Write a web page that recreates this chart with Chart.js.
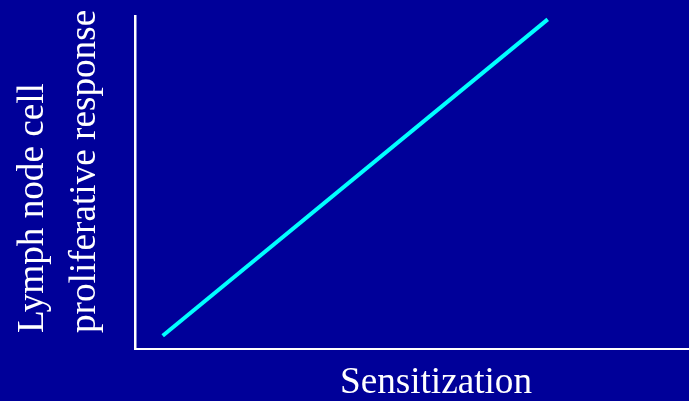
<!DOCTYPE html>
<html>
<head>
<meta charset="utf-8">
<script src="https://cdn.jsdelivr.net/npm/chart.js@4"></script>
<style>
  html, body { margin: 0; padding: 0; background: #000099; }
  #wrap { width: 689px; height: 401px; }
</style>
</head>
<body>
<div id="wrap"><canvas id="chart"></canvas></div>
<script>
// data (both axes 0-100, no ticks shown)
const sensitization = [5, 74.5];
const response = [4, 99];
const yTitle = ['Lymph node cell', 'proliferative response'];
const xTitle = 'Sensitization';

const ink = '#ffffff';
const font = '37.2px "Liberation Serif", "Times New Roman", serif';

// axis titles are placed by hand, the slide had them off-centre
const slideTitles = {
  id: 'slideTitles',
  afterDraw(chart) {
    const c = chart.ctx;
    c.save();
    c.fillStyle = ink;
    c.font = font;
    c.textAlign = 'left';
    c.textBaseline = 'alphabetic';
    const baselines = [43, 95];
    yTitle.forEach((t, i) => {
      c.save();
      c.translate(baselines[i], 333);
      c.rotate(-Math.PI / 2);
      c.fillText(t, 0, 0);
      c.restore();
    });
    c.textAlign = 'center';
    c.fillText(xTitle, 436, 393);
    c.restore();
  }
};

new Chart(document.getElementById('chart'), {
  type: 'scatter',
  data: {
    datasets: [{
      data: sensitization.map((x, i) => ({ x: x, y: response[i] })),
      showLine: true,
      borderColor: '#00ffff',
      borderWidth: 4,
      pointRadius: 0,
      borderCapStyle: 'butt'
    }]
  },
  options: {
    responsive: true,
    maintainAspectRatio: false,
    animation: false,
    layout: { padding: { left: 127, top: 16, right: 0, bottom: 44 } },
    plugins: { legend: { display: false }, tooltip: { enabled: false } },
    scales: {
      x: {
        type: 'linear', min: 0, max: 100,
        grid: { display: false },
        ticks: { display: false },
        border: { display: true, color: ink, width: 2 }
      },
      y: {
        type: 'linear', min: 0, max: 100,
        grid: { display: false },
        ticks: { display: false },
        border: { display: true, color: ink, width: 2.5 }
      }
    }
  },
  plugins: [slideTitles]
});
</script>
</body>
</html>
